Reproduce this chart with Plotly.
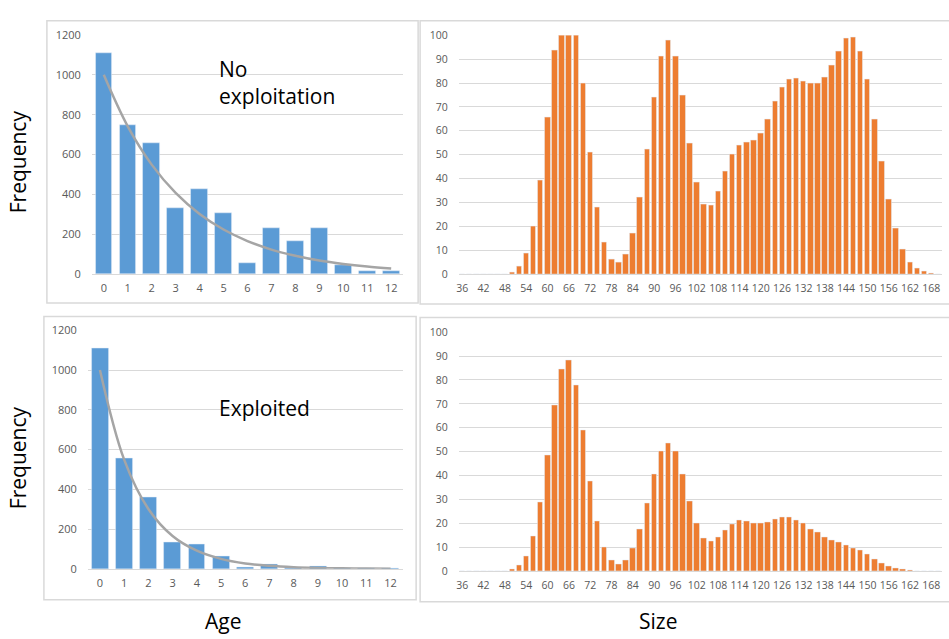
import plotly.graph_objects as go

W, H = 949, 639

# ---------------- data ----------------
ages = list(range(13))
age_no_exploit = [1110, 750, 655, 330, 425, 305, 55, 230, 165, 232, 45, 12, 15]
age_no_exploit_fit = [1000, 741, 549, 407, 301, 223, 165, 122, 91, 67, 50, 37, 27]
age_exploited = [1110, 555, 360, 135, 125, 65, 8, 25, 8, 12, 3, 2, 3]
age_exploited_fit = [1000, 549, 301, 165, 91, 50, 27, 15, 8, 4.5, 2.5, 1.4, 0.7]

sizes = list(range(36, 172, 2))
size_no_exploit = [
    0, 0, 0, 0, 0, 0, 0,            # 36-48
    0.8, 3, 8.6, 20, 39.2, 65.5, 93.7, 100, 100, 100, 79.7, 51, 28, 13.2,   # 50-76
    6.1, 4.8, 8.3, 17, 32, 52.4, 74.2, 91.4, 98, 91.4, 74.8,               # 78-98
    54.8, 38.2, 29.3, 28.9, 34.8, 43.2, 50.1, 53.8, 55.1, 55.9, 59.1,      # 100-120
    64.9, 72.3, 78.3, 81.7, 82.1, 80.9, 79.7, 79.9, 82.4, 87.6,            # 122-140
    93.5, 98.6, 99.3, 93.5, 81.7, 64.9, 47.3, 31.2, 19, 10.1,              # 142-160
    4.9, 2.3, 1.1, 0.4, 0,                                                 # 162-170
]
size_exploited = [
    0, 0, 0, 0, 0, 0, 0,            # 36-48
    0.7, 2.3, 6.1, 14.6, 28.9, 48.6, 69.5, 84.7, 88.1, 77.9, 59, 37.7, 20.7, 9.9,  # 50-76
    4.4, 3, 4.6, 9.4, 17.6, 28.6, 40.7, 50.3, 53.7, 50.3, 40.7,            # 78-98
    29.4, 20, 14, 12.4, 14.2, 17, 19.6, 21.3, 20.8, 20.2, 20,              # 100-120
    20.4, 21.7, 22.5, 22.5, 21.4, 20, 17.7, 16.1, 14.3, 13,                # 122-140
    12, 10.9, 9.8, 8.6, 7.1, 5.2, 3.5, 2.2, 1.2, 0.8,                      # 142-160
    0.4, 0, 0, 0, 0,                                                       # 162-170
]
size_ticks = list(range(36, 169, 6))
age_yticks = [0, 200, 400, 600, 800, 1000, 1200]
size_yticks = list(range(0, 101, 10))

BLUE = "#5B9BD5"
ORANGE = "#ED7D31"
CURVE = "#A5A5A5"
GRID = "#D9D9D9"
TICK = "#595959"
FONT = "Open Sans"


def px_x(x):
    return x / W


def px_y(y):
    return 1 - y / H


fig = go.Figure()

# top-left
fig.add_trace(go.Bar(x=ages, y=age_no_exploit, marker_color=BLUE, xaxis="x", yaxis="y",
                     width=0.7, showlegend=False))
fig.add_trace(go.Scatter(x=ages, y=age_no_exploit_fit, mode="lines", line=dict(color=CURVE, width=2.5, shape="spline"),
                         xaxis="x", yaxis="y", showlegend=False))
# top-right
fig.add_trace(go.Bar(x=sizes, y=size_no_exploit, marker_color=ORANGE, xaxis="x2", yaxis="y2",
                     width=1.55, showlegend=False))
# bottom-left
fig.add_trace(go.Bar(x=ages, y=age_exploited, marker_color=BLUE, xaxis="x3", yaxis="y3",
                     width=0.7, showlegend=False))
fig.add_trace(go.Scatter(x=ages, y=age_exploited_fit, mode="lines", line=dict(color=CURVE, width=2.5, shape="spline"),
                         xaxis="x3", yaxis="y3", showlegend=False))
# bottom-right
fig.add_trace(go.Bar(x=sizes, y=size_exploited, marker_color=ORANGE, xaxis="x4", yaxis="y4",
                     width=1.55, showlegend=False))

tickfont = dict(family=FONT, size=10.5, color=TICK)
agetickfont = dict(family=FONT, size=11, color=TICK)


def xax(domain, anchor, rng, tickvals, tf):
    return dict(domain=domain, anchor=anchor, range=rng, tickvals=tickvals, tickangle=0,
                showgrid=False, zeroline=False, showline=True, linecolor=GRID, linewidth=1,
                ticks="", tickfont=tf, ticklabelstandoff=4, fixedrange=True)


def yax(domain, anchor, rng, tickvals, tf):
    return dict(domain=domain, anchor=anchor, range=rng, tickvals=tickvals,
                showgrid=True, gridcolor=GRID, gridwidth=1, zeroline=False, showline=False,
                ticks="", tickfont=tf, ticklabelstandoff=10, fixedrange=True)


fig.update_layout(
    width=W, height=H,
    margin=dict(l=0, r=0, t=0, b=0),
    paper_bgcolor="white", plot_bgcolor="white",
    bargap=0,
    xaxis=xax([px_x(90), px_x(402)], "y", [-0.5, 12.5], ages, agetickfont),
    yaxis=yax([px_y(272.3), px_y(27.7)], "x", [0, 1200], age_yticks, agetickfont),
    xaxis2=xax([px_x(457.7), px_x(942)], "y2", [35, 171], size_ticks, tickfont),
    yaxis2=yax([px_y(272.3), px_y(28)], "x2", [0, 100], size_yticks, tickfont),
    xaxis3=xax([px_x(86), px_x(401.5)], "y3", [-0.5, 12.5], ages, agetickfont),
    yaxis3=yax([px_y(574.3), px_y(330)], "x3", [0, 1200], age_yticks, agetickfont),
    xaxis4=xax([px_x(457.7), px_x(942)], "y4", [35, 171], size_ticks, tickfont),
    yaxis4=yax([px_y(576.7), px_y(332)], "x4", [0, 100], size_yticks, tickfont),
)

# panel frames
frames = [(45, 13, 417, 302), (419, 13, 952, 303), (42, 316, 415, 606), (419, 317, 952, 608)]
for x0, y0, x1, y1 in frames:
    fig.add_shape(type="rect", xref="paper", yref="paper",
                  x0=px_x(x0), x1=px_x(x1), y0=px_y(y1), y1=px_y(y0),
                  line=dict(color="#D9D9D9", width=1.5), fillcolor="rgba(0,0,0,0)", layer="below")

labelfont = dict(family=FONT, size=21, color="#000000")
annos = [
    dict(text="No", x=px_x(215), y=px_y(62), xanchor="left", yanchor="middle"),
    dict(text="exploitation", x=px_x(215), y=px_y(90), xanchor="left", yanchor="middle"),
    dict(text="Exploited", x=px_x(215), y=px_y(410), xanchor="left", yanchor="middle"),
    dict(text="Age", x=px_x(221), y=px_y(628), xanchor="center", yanchor="middle"),
    dict(text="Size", x=px_x(657), y=px_y(628), xanchor="center", yanchor="middle"),
    dict(text="Frequency", x=px_x(16), y=px_y(157), xanchor="center", yanchor="middle", textangle=-90),
    dict(text="Frequency", x=px_x(16), y=px_y(460), xanchor="center", yanchor="middle", textangle=-90),
]
for a in annos:
    a.update(xref="paper", yref="paper", showarrow=False, font=labelfont)
    fig.add_annotation(**a)

fig.write_html("out.html")
